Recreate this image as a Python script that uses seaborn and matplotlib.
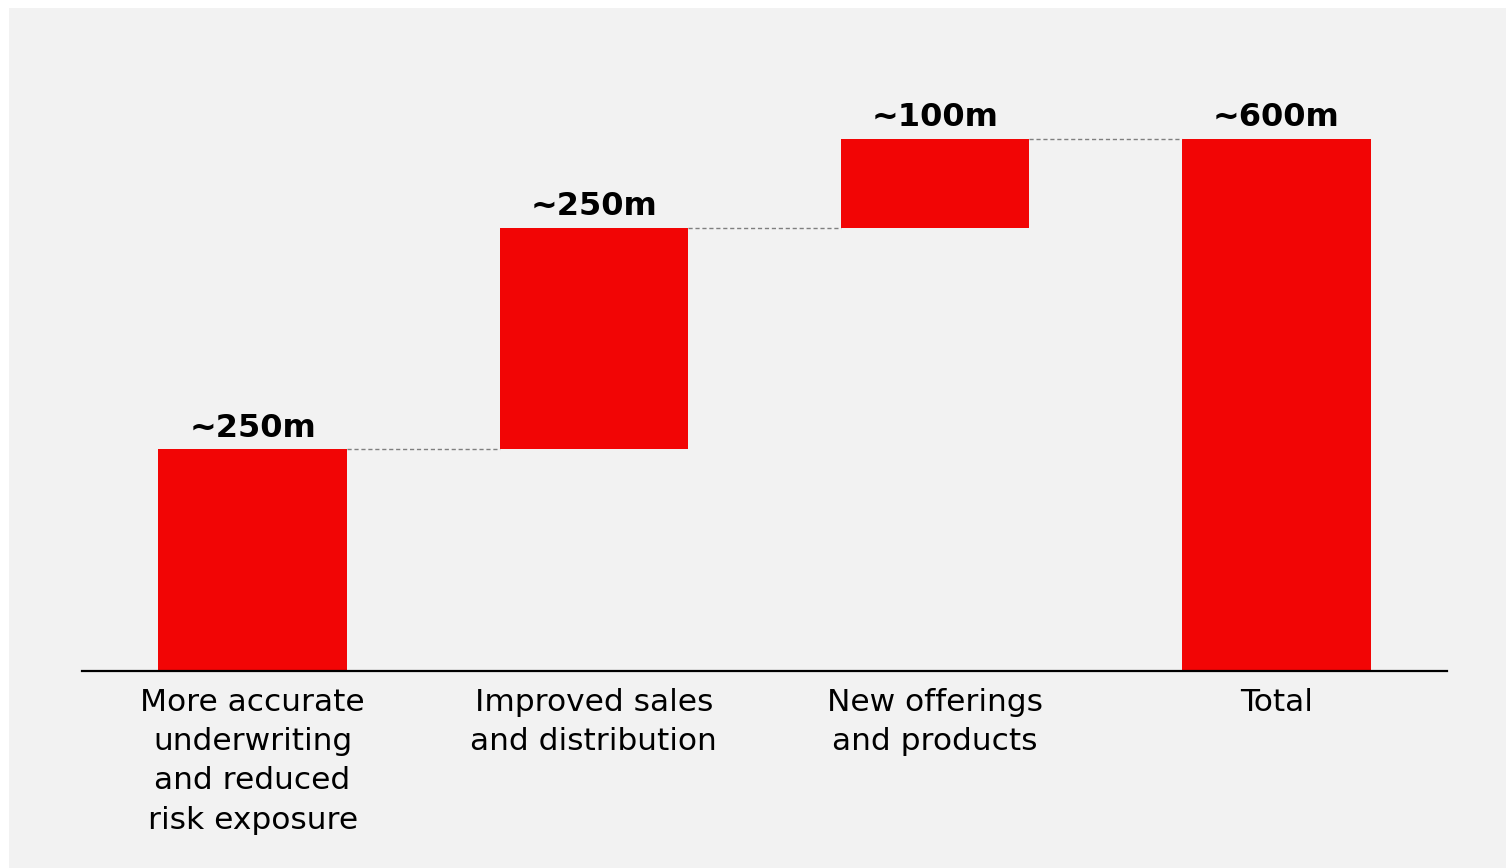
import numpy as np
import pandas as pd
import seaborn as sns
import matplotlib.pyplot as plt
from matplotlib.patches import Rectangle

# Value drivers (in millions) and the resulting total
categories = [
    "More accurate\nunderwriting\nand reduced\nrisk exposure",
    "Improved sales\nand distribution",
    "New offerings\nand products",
    "Total",
]
increments = [250, 250, 100]
total = 600
value_labels = ["~250m", "~250m", "~100m", "~600m"]

heights = increments + [total]
bottoms = list(np.concatenate([[0], np.cumsum(increments)[:-1]])) + [0]
tops = [b + h for b, h in zip(bottoms, heights)]

df = pd.DataFrame({"category": categories, "value": heights})

RED = "#F20505"
PANEL = "#F2F2F2"

sns.set_theme(style="white")
plt.rcParams["font.family"] = ["DejaVu Sans"]

fig = plt.figure(figsize=(15.06, 8.68), dpi=100, facecolor="white")
fig.patches.append(Rectangle((9 / 1506, 0), 1, 860 / 868, transform=fig.transFigure,
                             facecolor=PANEL, edgecolor="none", zorder=-5))

ax = fig.add_axes([82 / 1506, (868 - 671) / 868, 1365 / 1506, 620.7 / 868])
ax.set_facecolor("none")

bar_width = 0.553
sns.barplot(data=df, x="category", y="value", color=RED, width=bar_width,
            bottom=bottoms, linewidth=0, saturation=1, ax=ax)

# Dashed connectors between consecutive bars
for i in range(len(heights) - 1):
    level = tops[i]
    ax.plot([i + bar_width / 2, i + 1 - bar_width / 2], [level, level],
            color="#7F7F7F", linestyle=(0, (3, 2)), linewidth=1.0, zorder=1)

# Value labels above each bar
for i, (top, lab) in enumerate(zip(tops, value_labels)):
    ax.annotate(lab, xy=(i, top), xytext=(0, 9), textcoords="offset points",
                ha="center", va="baseline", fontsize=23, fontweight="bold",
                color="black")

ax.set_xlim(-0.5, 3.5)
ax.set_ylim(0, 700)
ax.set_xlabel("")
ax.set_ylabel("")
ax.set_yticks([])
ax.tick_params(axis="x", length=0, pad=12, labelsize=22.5, labelcolor="black")
for lab in ax.get_xticklabels():
    lab.set_linespacing(1.45)

for side in ["top", "right", "left"]:
    ax.spines[side].set_visible(False)
ax.spines["bottom"].set_color("black")
ax.spines["bottom"].set_linewidth(1.6)

fig.savefig("out.png", dpi=100, facecolor=fig.get_facecolor())
